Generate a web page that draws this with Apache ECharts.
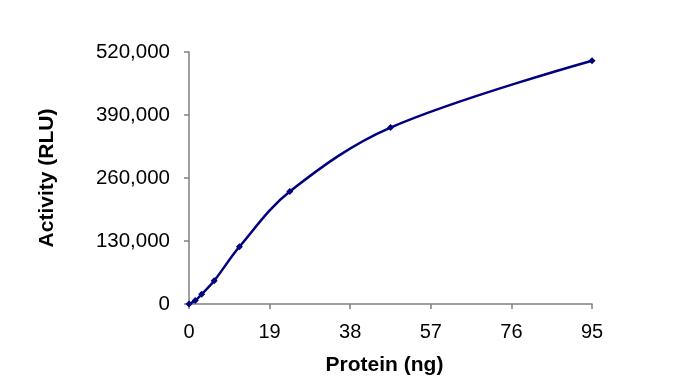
<!DOCTYPE html>
<html><head><meta charset="utf-8">
<script src="https://cdn.jsdelivr.net/npm/echarts@6/dist/echarts.min.js"></script>
<style>html,body{margin:0;padding:0;background:#fff}#c{width:673px;height:387px}</style>
</head><body><div id="c"></div>
<script>
const protein = [0, 1.48, 2.97, 5.94, 11.875, 23.75, 47.5, 95];
const activity = [0, 7000, 20000, 48000, 118000, 232000, 364000, 502000];
const xTicks = [0, 19, 38, 57, 76, 95];
const yTicks = [0, 130000, 260000, 390000, 520000];

const chart = echarts.init(document.getElementById('c'), null, {renderer: 'canvas'});
const font = 'Liberation Sans, Arial, sans-serif';
chart.setOption({
  animation: false,
  grid: {left: 189, right: 81, top: 52, bottom: 83},
  xAxis: {
    type: 'value', min: xTicks[0], max: xTicks[xTicks.length-1], interval: xTicks[1]-xTicks[0],
    name: 'Protein (ng)', nameLocation: 'middle', nameGap: 51,
    nameTextStyle: {fontFamily: font, fontSize: 21, fontWeight: 'bold', color: '#000', padding: [0, 12, 0, 0]},
    axisLine: {lineStyle: {color: '#808080', width: 1.5}},
    axisTick: {show: true, length: 5, lineStyle: {color: '#808080', width: 1.5}},
    axisLabel: {fontFamily: font, fontSize: 20, color: '#000', margin: 18},
    splitLine: {show: false}
  },
  yAxis: {
    type: 'value', min: yTicks[0], max: yTicks[yTicks.length-1], interval: yTicks[1]-yTicks[0],
    name: 'Activity (RLU)', nameLocation: 'middle', nameGap: 131, nameRotate: 90,
    nameTextStyle: {fontFamily: font, fontSize: 21, fontWeight: 'bold', color: '#000'},
    axisLine: {show: true, lineStyle: {color: '#808080', width: 1.5}},
    axisTick: {show: true, length: 5, lineStyle: {color: '#808080', width: 1.5}},
    axisLabel: {fontFamily: font, fontSize: 20.5, color: '#000', margin: 19,
      formatter: v => v.toLocaleString('en-US')},
    splitLine: {show: false}
  },
  series: [{
    type: 'line', smooth: 0.35,
    data: protein.map((x, i) => [x, activity[i]]),
    symbol: 'diamond', symbolSize: 7,
    lineStyle: {color: '#000080', width: 2.5},
    itemStyle: {color: '#000080'}
  }]
});
</script></body></html>
